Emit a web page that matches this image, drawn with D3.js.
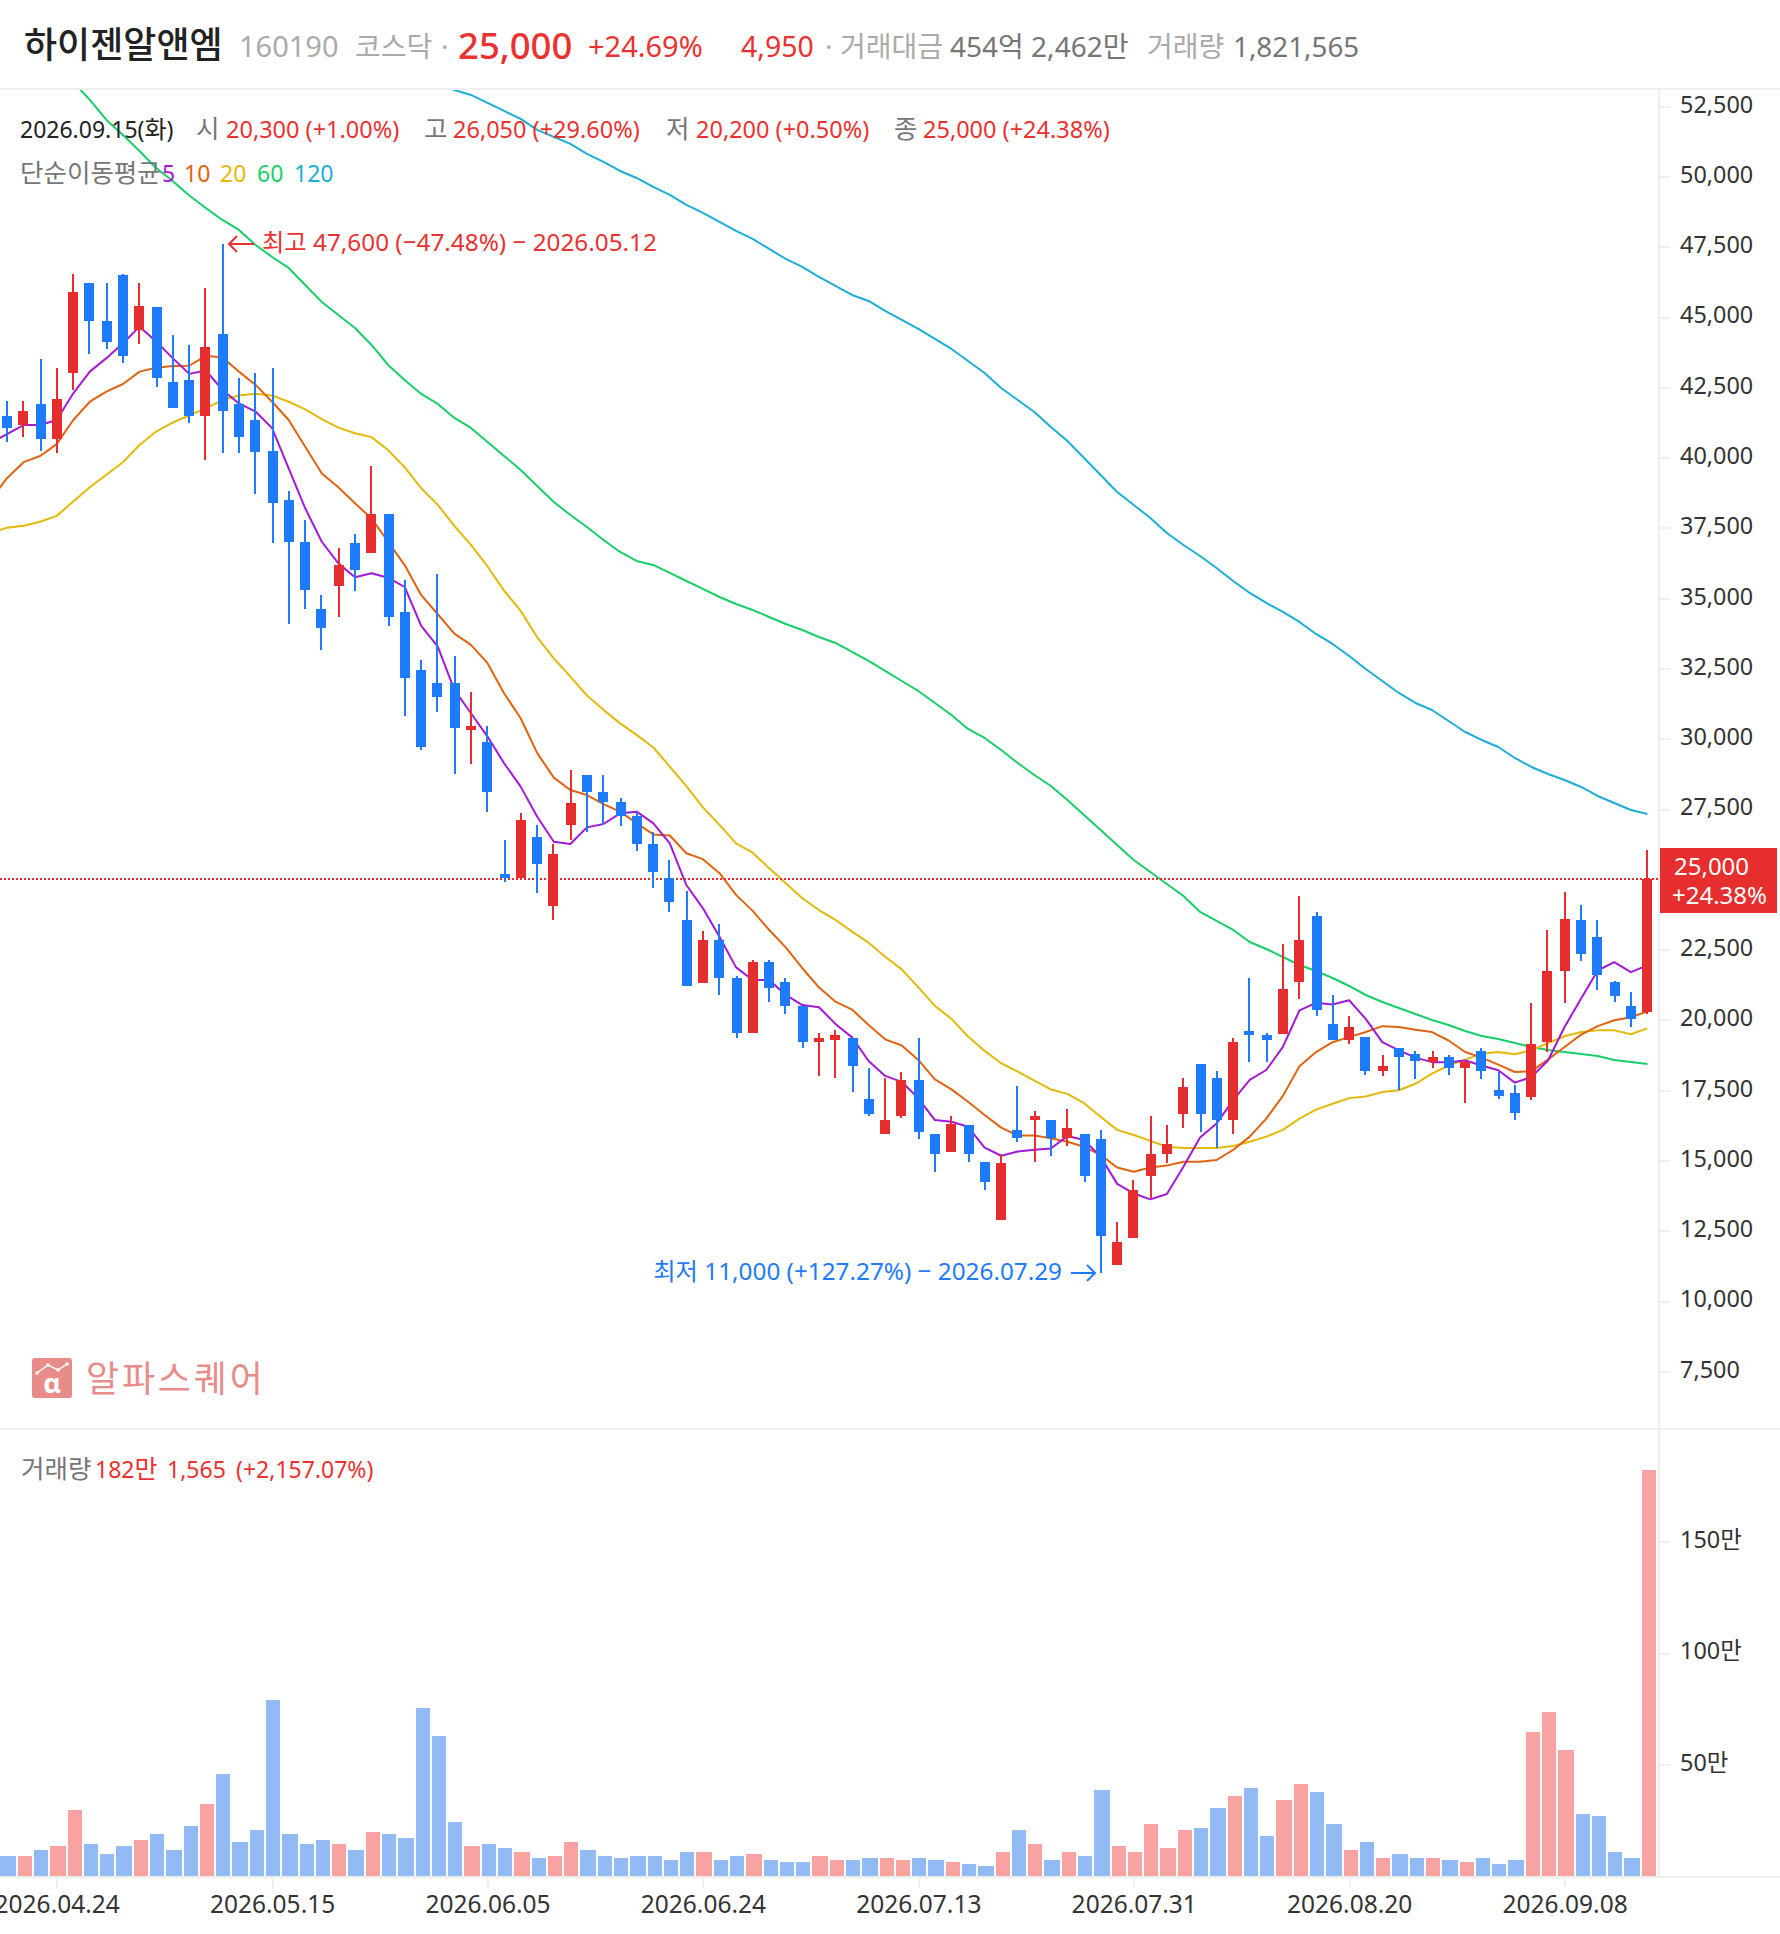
<!DOCTYPE html>
<html lang="ko">
<head>
<meta charset="utf-8">
<title>하이젠알앤엠</title>
<script src="https://cdn.jsdelivr.net/npm/d3@7/dist/d3.min.js"></script>
<style>
html,body{margin:0;padding:0;background:#fff;}
svg{display:block;font-family:"Noto Sans","Noto Sans CJK KR",sans-serif;}
</style>
</head>
<body>
<div id="chart"></div>
<script>
// ---- values ----
const opens  = [41500,41150,41900,40650,43000,46200,44850,46500,44550,45350,42700,42750,41500,44400,41900,41350,40250,38500,37000,34600,35450,36950,36600,38000,34500,32450,32000,32000,30300,29900,25200,25050,26500,24050,26950,28700,28100,27750,27250,26250,25050,23550,21300,22850,21500,19550,22050,21350,20500,19200,19300,19350,17200,15950,16600,17850,15950,15300,16250,14950,12900,16100,16450,16450,15800,15950,15750,11300,12250,14450,15250,16650,18450,17950,16450,19600,19450,19500,21350,23700,19850,19300,19400,18200,19000,18800,18500,18700,18300,18900,17500,17400,17250,19200,21750,23550,22950,21350,20500,20300];
const highs  = [42000,42000,43500,43200,46550,46200,46200,46550,46200,45350,44350,44000,46050,47600,42850,43000,43200,38800,37800,35100,36800,37300,39700,38000,35650,32800,35850,32950,31650,30450,26400,27350,26950,26250,28900,28700,28700,27900,27400,26700,25700,24600,23150,23400,21550,22150,22150,21500,20500,19550,19650,19350,18300,17950,18150,19350,15950,16600,16250,14950,15250,17650,16750,16450,16850,15950,16100,12800,14300,16600,16250,17950,18450,18200,19350,21500,19550,22700,24400,23850,20900,20150,19400,18750,19000,18900,18900,18750,18550,19000,18150,17700,20600,23200,24550,24100,23550,21400,21000,26050];
const lows   = [40550,40750,40250,40150,42400,43700,43850,43350,44050,42500,41750,41250,39900,40150,40150,38700,36950,34100,34600,33150,34350,35250,36600,34000,30800,29600,30950,28750,29100,27400,24900,25050,24500,23550,26400,26700,26950,26900,26000,24700,23850,21200,21300,20900,19350,19550,20650,20200,19000,18000,17950,17450,16600,15950,16500,15750,14600,15300,14950,13950,12900,15650,14950,15150,15500,14250,11000,11300,12250,13650,14900,16150,16000,15450,15950,18500,18500,19500,20750,20150,19300,19150,18050,18000,17500,17900,18300,18050,17050,17900,17200,16450,17150,18850,20600,22100,21050,20650,19750,20200];
const closes = [41050,41650,40650,42100,45900,44850,44100,43600,45400,42850,41750,41500,43950,41650,40750,40200,38400,37000,35300,33950,36200,36000,38000,34350,32150,29700,31500,30400,30450,28100,25050,27100,25550,25900,27700,28100,27750,27250,26250,25250,24200,21200,22850,21500,19550,22050,21150,20500,19200,19350,19450,18350,16650,16450,17850,16000,15250,16300,15250,14250,14900,15800,16600,15800,16150,14450,12300,12100,13950,15250,15600,17600,16650,16450,19200,19450,19300,21100,22850,20350,19300,19750,18200,18350,18700,18550,18700,18300,18500,18200,17300,16700,19150,21750,23600,22350,21600,20850,20050,25000];
const volumes = [9.0,9.0,11.7,13.5,29.6,14.4,9.9,13.5,16.2,18.8,11.7,22.4,32.3,45.8,15.3,20.6,79.0,18.8,14.4,16.2,14.4,11.7,19.7,18.8,17.0,75.4,62.8,24.2,13.5,14.4,12.6,10.8,8.1,9.0,15.3,11.7,9.0,8.1,9.0,9.0,7.2,10.8,10.8,7.2,9.0,9.9,7.2,6.3,6.3,9.0,7.2,7.2,8.1,8.1,7.2,8.1,7.2,6.3,5.4,4.5,10.8,20.6,14.4,7.2,10.8,9.0,38.6,13.5,10.8,23.3,12.6,20.6,21.5,30.5,35.9,39.5,17.9,34.1,41.3,37.7,23.3,11.7,15.3,8.1,9.9,8.1,8.1,7.2,6.3,8.1,5.4,7.2,64.6,73.6,56.5,27.8,26.9,10.8,8.1,182.16];
// the short averages start one session left of the first candle (cut by the edge)
const maShortStart = -1;
const ma5  = [40510,40840,41160,41160,41340,42290,43060,43540,44070,44660,44130,43540,42980,43100,42410,41930,41640,41050,39620,38200,37010,36240,35750,35890,35730,35400,34020,33280,31740,30910,30080,29130,28300,27230,26340,26260,26850,26970,27350,27410,27000,26280,24800,23970,22960,21870,21420,21420,20890,20530,20450,19860,19380,18540,18010,17800,17210,16440,16380,16200,15460,15170,15320,15380,15430,15870,15730,15140,14170,13830,13620,13810,14780,15820,16320,17150,17870,18220,19040,20340,20610,20550,20700,20040,19210,18920,18660,18500,18500,18560,18380,18210,17770,17970,18560,19750,20760,21760,22060,21700,21940];
const ma10 = [38500,39270,39840,40060,40480,41340,41990,42350,42620,43060,43200,43260,43270,43620,43570,43060,42590,41990,41340,40390,39440,38950,38380,37840,37010,36180,35110,34430,33740,33340,32690,31620,30730,29490,28620,28180,28000,27680,27410,27000,26600,26560,25930,25720,25220,24450,23880,23200,22580,21840,21160,20650,20370,19820,19310,19090,18580,17890,17530,17090,16620,16170,15890,15890,15790,15670,15490,15200,14750,14600,14750,14820,14960,14960,15020,15380,15850,16490,17300,18350,18860,19210,19390,19570,19780,19750,19650,19570,19270,18860,18660,18410,18150,18180,18590,19040,19480,19780,19990,20100,20300];
const ma20 = [37310,37510,37580,37720,37930,38440,38950,39390,39840,40450,40930,41250,41500,41760,42050,42210,42270,42210,41990,41720,41370,41070,40870,40730,40270,39660,38910,38320,37570,36900,36130,35270,34550,33610,32860,32210,31540,31030,30550,30140,29700,29010,28320,27560,26940,26280,25950,25400,24860,24330,23910,23560,23140,22750,22250,21800,21160,20500,20040,19410,18900,18460,18160,17840,17530,17370,17040,16560,16090,15910,15700,15490,15450,15450,15450,15520,15670,15850,16090,16490,16810,17020,17220,17280,17440,17500,17730,18090,18380,18590,18800,18860,18780,18920,19180,19420,19570,19630,19630,19490,19700];
const ma60Start = 3;
const ma60 = [54075,53364,52724,52012,51479,50910,50305,49842,49327,48882,48455,48100,47566,47139,46748,46143,45538,45076,44614,44009,43298,42764,42266,41910,41412,41057,40559,40061,39563,38994,38424,37962,37535,37073,36646,36326,36184,35899,35614,35330,35045,34796,34583,34334,34085,33872,33623,33409,33089,32769,32413,32057,31702,31275,30848,30350,30030,29603,29141,28714,28323,27825,27291,26758,26224,25690,25264,24837,24410,23841,23521,23201,22774,22525,22240,21956,21742,21493,21209,20888,20639,20426,20213,19999,19821,19608,19430,19323,19181,19039,18932,18861,18790,18719,18576,18505,18434];
const ma120Start = 26;
const ma120 = [53293,53079,52901,52617,52332,52048,51657,51408,51159,50803,50518,50198,49949,49629,49344,48989,48704,48384,48064,47779,47424,47068,46783,46428,46108,45787,45574,45218,44898,44578,44222,43867,43440,43013,42479,42053,41626,41092,40594,39990,39385,38780,38318,37855,37322,36895,36504,36077,35614,35188,34832,34512,34156,33729,33374,32947,32484,32057,31631,31275,31026,30635,30243,29959,29710,29319,28998,28749,28536,28287,27967,27718,27469,27327];
// the 25,000 level is labelled by the current-price tag
const priceTicks = [52500,50000,47500,45000,42500,40000,37500,35000,32500,30000,27500,22500,20000,17500,15000,12500,10000,7500];
const volumeTicks = [50,100,150];
const dateTickIndex = [3,16,29,42,55,68,81,94];
const dateTickLabels = ["2026.04.24","2026.05.15","2026.06.05","2026.06.24","2026.07.13","2026.07.31","2026.08.20","2026.09.08"];
const highIndex = 13, lowIndex = 66, lastIndex = 99;

// ---- styling ----
const W = 1780, H = 1934;
const RED = "#e62e2e", BLUE = "#1e7bfb", TXTRED = "#ea3230", GRAY = "#767676", LGRAY = "#aaaaaa", LINE = "#eeeeee";
const maColors = {5:"#a31ad6",10:"#e0640f",20:"#e3b90a",60:"#17cf68",120:"#1baed6"};
const FONT = '"Noto Sans","Noto Sans CJK KR",sans-serif';

const svg = d3.select("#chart").append("svg").attr("width",W).attr("height",H).attr("viewBox",`0 0 ${W} ${H}`);
const x = d3.scaleBand().domain(d3.range(closes.length)).range([-1.3,1655.7]);
const cx = i => x(0) + i*x.step() + x.bandwidth()/2;
const even = v => 2*Math.round(v/2);
const y = d3.scaleLinear().domain([11000,47600]).range([1273,244]);
const yv = d3.scaleLinear().domain([0,182.16]).range([1876,1470]);

svg.append("defs").append("clipPath").attr("id","pricePlot").append("rect").attr("x",0).attr("y",90).attr("width",1659).attr("height",1338);

// frame lines
const frame = svg.append("g").attr("stroke",LINE).attr("stroke-width",2).attr("shape-rendering","crispEdges");
[[0,89,W,89],[0,1429,W,1429],[0,1877,W,1877],[1659,89,1659,1877]].forEach(d=>{
  frame.append("line").attr("x1",d[0]).attr("y1",d[1]).attr("x2",d[2]).attr("y2",d[3]);
});

// axes
function styleAxis(g, dyFix, size){
  g.select(".domain").remove();
  g.selectAll(".tick line").attr("stroke",LINE).attr("stroke-width",2).attr("shape-rendering","crispEdges");
  g.selectAll(".tick text").attr("fill","#333").attr("font-size",size).attr("font-family",FONT).attr("dy",dyFix);
}
svg.append("g").attr("transform","translate(1660,0)")
  .call(d3.axisRight(y).tickValues(priceTicks).tickSize(10).tickPadding(10).tickFormat(d3.format(",")))
  .call(styleAxis,"0.25em",23.4);
svg.append("g").attr("transform","translate(1660,0)")
  .call(d3.axisRight(yv).tickValues(volumeTicks).tickSize(10).tickPadding(10).tickFormat(d=>d+"만"))
  .call(styleAxis,"0.25em",23.4);
svg.append("g").attr("transform","translate(0,1877)")
  .call(d3.axisBottom(d3.scaleOrdinal().domain(dateTickIndex).range(dateTickIndex.map(cx))).tickValues(dateTickIndex).tickSize(10).tickPadding(9).tickFormat((d,i)=>dateTickLabels[i]))
  .call(styleAxis,"0.71em",24.5);

// watermark
const wm = svg.append("g");
wm.append("rect").attr("x",32).attr("y",1358).attr("width",40).attr("height",40).attr("rx",3).attr("fill","#e88c8a");
wm.append("polyline").attr("points","37,1373 48,1365 58,1370 67,1364").attr("fill","none").attr("stroke","#fff").attr("stroke-width",1.5);
wm.selectAll("circle.p").data([[37,1373],[48,1365],[58,1370],[67,1364]]).join("circle").attr("cx",d=>d[0]).attr("cy",d=>d[1]).attr("r",1.8).attr("fill","#fff");
wm.append("text").attr("x",52).attr("y",1393).attr("text-anchor","middle").attr("font-size",27).attr("font-weight",700).attr("fill","#fff").text("α");
wm.append("text").attr("x",86).attr("y",1392).attr("font-size",36).attr("letter-spacing",2.8).attr("fill","#e88c8a").text("알파스퀘어");

// price plot
const plot = svg.append("g").attr("clip-path","url(#pricePlot)");
// moving averages sit under the candles
const line = d3.line().x(d=>cx(d[0])).y(d=>y(d[1]));
[[ma120,ma120Start,120],[ma60,ma60Start,60],[ma20,maShortStart,20],[ma10,maShortStart,10],[ma5,maShortStart,5]].forEach(([vals,start,k])=>{
  plot.append("path").datum(vals.map((v,j)=>[j+start,v])).attr("d",line)
    .attr("fill","none").attr("stroke",maColors[k]).attr("stroke-width",2).attr("stroke-linejoin","round");
});
// current price line
plot.append("line").attr("x1",0).attr("x2",1659).attr("y1",y(closes[lastIndex])).attr("y2",y(closes[lastIndex]))
  .attr("stroke",RED).attr("stroke-width",2).attr("stroke-dasharray","2 2").attr("shape-rendering","crispEdges");

const idx = d3.range(closes.length);
const color = i => closes[i] >= opens[i] ? RED : BLUE;
const bodyW = 10, wickW = 2;
const bodyX = i => even(cx(i)-bodyW/2);
plot.append("g").attr("shape-rendering","crispEdges").selectAll("rect").data(idx).join("rect")
  .attr("x",i=>bodyX(i)+4).attr("width",wickW)
  .attr("y",i=>y(highs[i])).attr("height",i=>y(lows[i])-y(highs[i])).attr("fill",color);
plot.append("g").attr("shape-rendering","crispEdges").selectAll("rect").data(idx).join("rect")
  .attr("x",bodyX).attr("width",bodyW)
  .attr("y",i=>y(Math.max(opens[i],closes[i])))
  .attr("height",i=>Math.max(2,y(Math.min(opens[i],closes[i]))-y(Math.max(opens[i],closes[i]))))
  .attr("fill",color);

// extreme annotations
function arrow(x1,x2,yy,col){
  const dir = x2>x1?1:-1, g = svg.append("g").attr("stroke",col).attr("stroke-width",2).attr("fill","none");
  g.append("line").attr("x1",x1).attr("x2",x2).attr("y1",yy).attr("y2",yy);
  g.append("polyline").attr("points",`${x2-dir*8},${yy-8} ${x2},${yy} ${x2-dir*8},${yy+8}`);
}
arrow(254,229,y(highs[highIndex]),TXTRED);
svg.append("text").attr("x",262).attr("y",y(highs[highIndex])+7).attr("font-size",24.3).attr("fill",TXTRED).text("최고 47,600 (−47.48%) − 2026.05.12");
arrow(1071,1095,y(lows[lowIndex]),BLUE);
svg.append("text").attr("x",1062).attr("text-anchor","end").attr("y",y(lows[lowIndex])+7).attr("font-size",24.3).attr("fill",BLUE).text("최저 11,000 (+127.27%) − 2026.07.29");

// volume
const volLeft = i => even(x(0)+i*x.step()+2.3);
svg.append("g").attr("shape-rendering","crispEdges").selectAll("rect").data(idx).join("rect")
  .attr("x",volLeft).attr("width",i=>volLeft(i+1)-volLeft(i)-2)
  .attr("y",i=>yv(volumes[i])).attr("height",i=>yv(0)-yv(volumes[i]))
  .attr("fill",i=>closes[i]>=opens[i]?"#f8a2a2":"#92bbf6");

// texts: hangul runs may use their own size
function t(xp,yp,s,col,size,weight,hangulSize){
  const el = svg.append("text").attr("x",xp).attr("y",yp).attr("fill",col).attr("font-size",size).attr("font-weight",weight||400);
  s.split(/([\uAC00-\uD7A3]+)/).filter(p=>p.length).forEach(p=>{
    const ts = el.append("tspan").text(p);
    if(hangulSize && /[\uAC00-\uD7A3]/.test(p)) ts.attr("font-size",hangulSize);
  });
  return el;
}
// header
t(24,58,"하이젠알앤엠","#222",36,500);
t(239,57,"160190",LGRAY,29);
t(355,57,"코스닥",LGRAY,28);
t(441,57,"·",LGRAY,28);
t(458,59,"25,000",TXTRED,36.5,500);
t(588,57,"+24.69%",TXTRED,29);
t(741,57,"4,950",TXTRED,28.5);
t(825,57,"·",LGRAY,28);
t(840,57,"거래대금",LGRAY,28);
t(950,57,"454억 2,462만",GRAY,28);
t(1147,57,"거래량",LGRAY,28);
t(1233,57,"1,821,565",GRAY,27.8);
// info row
t(20,138,"2026.09.15(화)","#222",23,400,24);
t(196,138,"시",GRAY,25.5);
t(226,138,"20,300 (+1.00%)",TXTRED,23.5);
t(424,138,"고",GRAY,25.5);
t(453,138,"26,050 (+29.60%)",TXTRED,23.5);
t(666,138,"저",GRAY,25.5);
t(696,138,"20,200 (+0.50%)",TXTRED,23.5);
t(894,138,"종",GRAY,25.5);
t(923,138,"25,000 (+24.38%)",TXTRED,23.5);
// MA legend
t(20,182,"단순이동평균",GRAY,25.5);
t(162,182,"5",maColors[5],23);
t(184,182,"10",maColors[10],23);
t(220,182,"20",maColors[20],23);
t(257,182,"60",maColors[60],23);
t(294,182,"120",maColors[120],23);
// volume legend
t(21,1478,"거래량",GRAY,25.5);
t(95,1478,"182만",TXTRED,23,400,25);
t(167,1478,"1,565",TXTRED,23);
t(236,1478,"(+2,157.07%)",TXTRED,23);
// price tag
svg.append("rect").attr("x",1660).attr("y",848).attr("width",117).attr("height",65).attr("fill",RED);
t(1674,875,"25,000","#fff",24);
t(1672,904,"+24.38%","#fff",24);
</script>
</body>
</html>
